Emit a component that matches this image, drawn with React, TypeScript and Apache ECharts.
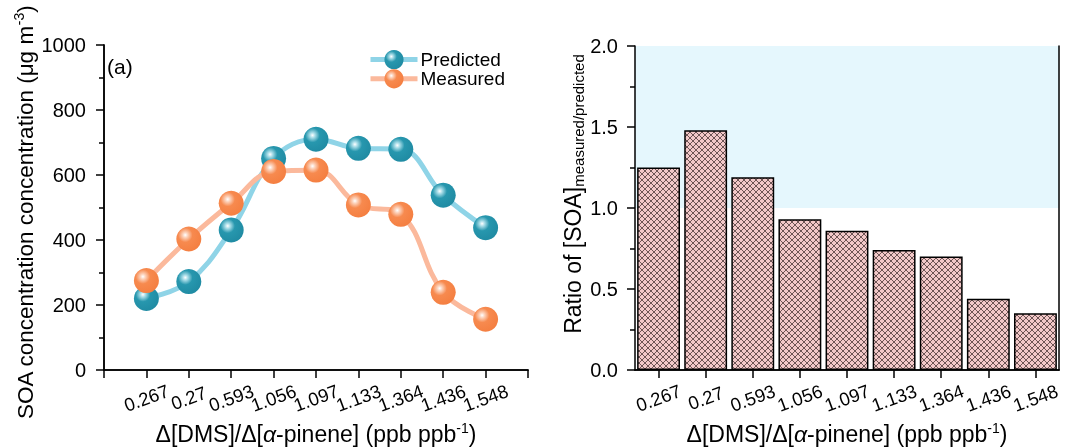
import React, { useEffect, useRef } from 'react';
import * as echarts from 'echarts';

const ratioLabels = ['0.267', '0.27', '0.593', '1.056', '1.097', '1.133', '1.364', '1.436', '1.548'];
const predicted = [220, 272, 431, 651, 710, 682, 679, 538, 438];
const measured = [275, 403, 513, 611, 615, 508, 479, 239, 156];
const ratio = [1.25, 1.48, 1.19, 0.93, 0.86, 0.74, 0.7, 0.44, 0.35];

const FONT = '"Liberation Sans", Arial, sans-serif';

function makeHatch(): HTMLCanvasElement {
  const c = document.createElement('canvas');
  c.width = 6;
  c.height = 6;
  const ctx = c.getContext('2d')!;
  ctx.fillStyle = '#f2c8c8';
  ctx.fillRect(0, 0, 6, 6);
  ctx.strokeStyle = '#5e4646';
  ctx.lineWidth = 0.9;
  ctx.beginPath();
  ctx.moveTo(-1, -1);
  ctx.lineTo(7, 7);
  ctx.moveTo(7, -1);
  ctx.lineTo(-1, 7);
  ctx.stroke();
  return c;
}

function sphere(base: string, dark: string, light: string) {
  return {
    type: 'radial',
    x: 0.36,
    y: 0.34,
    r: 0.72,
    colorStops: [
      { offset: 0, color: '#ffffff' },
      { offset: 0.14, color: light },
      { offset: 0.4, color: base },
      { offset: 1, color: dark },
    ],
  };
}

export default function App() {
  const ref = useRef<HTMLDivElement>(null);
  useEffect(() => {
    if (!ref.current) return;
    const chart = echarts.init(ref.current, null, { renderer: 'svg' });
    const hatch = makeHatch();
    const axisLine = { show: true, lineStyle: { color: '#000', width: 1.5 } };
    const tickStyle = { show: true, length: 8, lineStyle: { color: '#000', width: 1.5 } };
    const minorTick = { show: true, splitNumber: 2, length: 5, lineStyle: { color: '#000', width: 1.5 } };
    const frameAxis = (pos: string, gridIndex: number) => ({
      type: 'value',
      gridIndex,
      position: pos,
      min: 0,
      max: 1,
      z: 5,
      axisLine,
      axisTick: { show: false },
      axisLabel: { show: false },
      splitLine: { show: false },
    });
    const xName = '{n|Δ[DMS]/Δ[}{it|α}{n|-pinene] (ppb ppb}{sup|-1}{n|)}';
    const xNameStyle = {
      rich: {
        n: { fontSize: 23, fontFamily: FONT, color: '#000', lineHeight: 26 },
        it: { fontSize: 23, fontFamily: FONT, color: '#000', lineHeight: 26, fontStyle: 'italic' },
        sup: { fontSize: 14, fontFamily: FONT, color: '#000', lineHeight: 14, verticalAlign: 'top' },
      },
    };
    const xLabelStyle = { fontSize: 18.5, fontFamily: FONT, color: '#000' };
    const yLabelStyle = { fontSize: 20, fontFamily: FONT, color: '#000' };

    chart.setOption({
      animation: false,
      textStyle: { fontFamily: FONT },
      grid: [
        { left: 104, top: 45, width: 424, height: 325, outerBoundsMode: 'none', containLabel: false },
        { left: 635, top: 46, width: 424, height: 324, outerBoundsMode: 'none', containLabel: false },
      ],
      legend: {
        left: 368,
        top: 50,
        padding: 0,
        orient: 'vertical',
        itemWidth: 47,
        itemHeight: 24,
        itemGap: 0,
        lineStyle: { width: 5 },
        data: ['Predicted', 'Measured'],
        textStyle: { fontSize: 19, fontFamily: FONT, color: '#000', padding: [0, 0, 0, -2] },
      },
      xAxis: [
        {
          type: 'value',
          gridIndex: 0,
          min: 0,
          max: 10,
          interval: 1,
          z: 5,
          axisLine,
          axisTick: tickStyle,
          splitLine: { show: false },
          axisLabel: {
            ...xLabelStyle,
            rotate: 20,
            align: 'center',
            verticalAlign: 'middle',
            margin: 28,
            formatter: (v: number) => ratioLabels[Math.round(v) - 1] ?? '',
          },
          name: xName,
          nameLocation: 'middle',
          nameGap: 46,
          nameTextStyle: xNameStyle,
        },
        frameAxis('top', 0),
        {
          type: 'category',
          gridIndex: 1,
          data: ratioLabels,
          z: 5,
          axisLine,
          axisTick: { ...tickStyle, alignWithLabel: true, interval: 0 },
          splitLine: { show: false },
          axisLabel: {
            ...xLabelStyle,
            interval: 0,
            rotate: 20,
            align: 'center',
            verticalAlign: 'middle',
            margin: 28,
          },
          name: xName,
          nameLocation: 'middle',
          nameGap: 46,
          nameTextStyle: xNameStyle,
        },
        frameAxis('top', 1),
      ],
      yAxis: [
        {
          type: 'value',
          gridIndex: 0,
          min: 0,
          max: 1000,
          interval: 200,
          z: 5,
          axisLine,
          axisTick: tickStyle,
          minorTick,
          splitLine: { show: false },
          minorSplitLine: { show: false },
          axisLabel: { ...yLabelStyle, margin: 18, formatter: (v: number) => String(v) },
          name: '{n|SOA concentration concentration (μg m}{sup|-3}{e|)}',
          nameLocation: 'middle',
          nameGap: 66,
          nameTextStyle: {
            rich: {
              n: { fontSize: 22.5, fontFamily: FONT, color: '#000', lineHeight: 26 },
              e: { fontSize: 22.5, fontFamily: FONT, color: '#000', lineHeight: 26, padding: [0, 10, 0, 0] },
              sup: { fontSize: 14, fontFamily: FONT, color: '#000', lineHeight: 14, verticalAlign: 'top' },
            },
          },
        },
        frameAxis('right', 0),
        {
          type: 'value',
          gridIndex: 1,
          min: 0,
          max: 2,
          interval: 0.5,
          z: 5,
          axisLine,
          axisTick: tickStyle,
          minorTick,
          splitLine: { show: false },
          minorSplitLine: { show: false },
          axisLabel: { ...yLabelStyle, margin: 17, formatter: (v: number) => v.toFixed(1) },
          name: '{n|Ratio of [SOA]}{sub|measured/predicted}',
          nameLocation: 'middle',
          nameGap: 44,
          nameTextStyle: {
            rich: {
              n: { fontSize: 23, fontFamily: FONT, color: '#000', lineHeight: 26, padding: [0, 0, 0, 28] },
              sub: {
                fontSize: 15,
                fontFamily: FONT,
                color: '#000',
                lineHeight: 15,
                verticalAlign: 'bottom',
                padding: [18, 0, 0, 0],
              },
            },
          },
        },
        frameAxis('right', 1),
      ],
      series: [
        {
          name: 'Predicted',
          type: 'line',
          xAxisIndex: 0,
          yAxisIndex: 0,
          data: predicted.map((v, i) => [i + 1, v]),
          smooth: 0.4,
          symbol: 'circle',
          symbolSize: 25,
          lineStyle: { color: '#8fd4e7', width: 5 },
          itemStyle: { color: sphere('#2797ae', '#1f8aa2', '#a9dde8') },
          z: 3,
        },
        {
          name: 'Measured',
          type: 'line',
          xAxisIndex: 0,
          yAxisIndex: 0,
          data: measured.map((v, i) => [i + 1, v]),
          smooth: 0.4,
          symbol: 'circle',
          symbolSize: 25,
          lineStyle: { color: '#fbb99c', width: 5 },
          itemStyle: { color: sphere('#f78a4f', '#f47e40', '#fcd2bb') },
          z: 4,
        },
        {
          name: 'Ratio',
          type: 'bar',
          xAxisIndex: 2,
          yAxisIndex: 2,
          data: ratio,
          barCategoryGap: '9%',
          itemStyle: {
            color: { image: hatch, repeat: 'repeat' },
            borderColor: '#000',
            borderWidth: 1.5,
          },
          markArea: {
            silent: true,
            itemStyle: { color: '#e5f7fd' },
            data: [[{ yAxis: 1 }, { yAxis: 2 }]],
          },
        },
      ],
      graphic: [
        { type: 'text', left: 107, top: 56, style: { text: '(a)', fontSize: 21, fontFamily: FONT, fill: '#000' } },
        { type: 'text', left: 640, top: 57, style: { text: '(b)', fontSize: 21, fontFamily: FONT, fill: '#000' } },
      ],
    });
    return () => chart.dispose();
  }, []);
  return <div ref={ref} style={{ position: 'fixed', left: 0, top: 0, width: 1067, height: 448 }} />;
}
